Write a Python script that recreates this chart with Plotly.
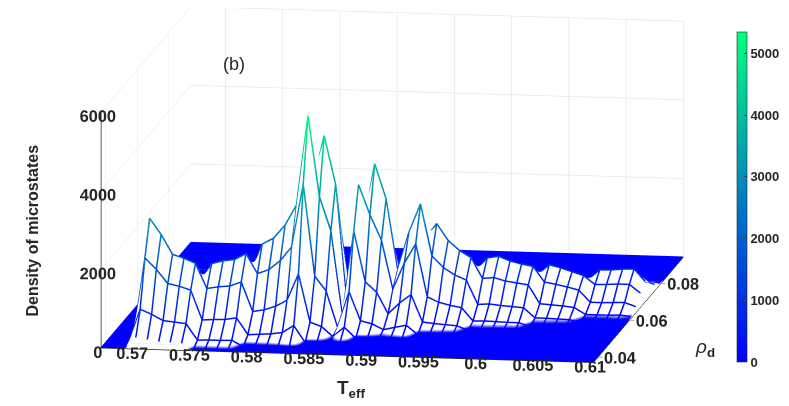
import numpy as np
import plotly.graph_objects as go

# grid
t_eff = [0.567, 0.568, 0.569, 0.570, 0.571, 0.572, 0.573, 0.574, 0.575, 0.576,
         0.577, 0.578, 0.579, 0.580, 0.581, 0.582, 0.583, 0.584, 0.585, 0.586,
         0.587, 0.588, 0.589, 0.590, 0.591, 0.592, 0.593, 0.594, 0.595, 0.596,
         0.597, 0.598, 0.599, 0.600, 0.601, 0.602, 0.603, 0.604, 0.605, 0.606,
         0.607, 0.608, 0.609, 0.610]
rho_d = [0.037, 0.040, 0.043, 0.046, 0.049, 0.052, 0.055, 0.058, 0.061, 0.064,
         0.067, 0.070, 0.073, 0.076, 0.079, 0.082, 0.085, 0.088, 0.091, 0.094]

# density of microstates, one list per T_eff value (along rho_d)
density_cols = [
    [0] * 20,
    [0] * 20,
    [0] * 20,
    [230, 870, 2030, 2900, 1890, 870, 230] + [0] * 13,
    [200, 750, 1750, 2500, 1630, 750, 200] + [0] * 13,
    [160, 600, 1400, 2000, 1300, 600, 160] + [0] * 13,
    [150, 570, 1340, 1910, 1240, 570, 150] + [0] * 13,
    [140, 540, 1250, 1790, 1160, 540, 140] + [0] * 13,
    [0] + [130, 500, 1160, 1650, 1070, 500, 130] + [0] * 12,
    [0] + [140, 520, 1210, 1730, 1120, 520, 140] + [0] * 12,
    [0] + [140, 530, 1240, 1770, 1150, 530, 140] + [0] * 12,
    [0] + [150, 580, 1350, 1930, 1250, 580, 150] + [0] * 12,
    [0] * 2 + [160, 610, 1430, 2040, 1330, 610, 160] + [0] * 11,
    [0] * 2 + [180, 660, 1540, 2200, 1430, 660, 180] + [0] * 11,
    [0] * 2 + [200, 760, 1780, 2540, 1650, 760, 200] + [0] * 11,
    [0] * 2 + [240, 920, 2140, 3060, 1990, 920, 240] + [0] * 11,
    [0] * 2 + [430, 1600, 3740, 5340, 3470, 1600, 430] + [0] * 11,
    [0] * 3 + [380, 1410, 3290, 4700, 3060, 1410, 380] + [0] * 10,
    [0] * 3 + [280, 1040, 2430, 3470, 2260, 1040, 280] + [0] * 10,
    [0] * 3 + [30, 120, 280, 400, 260, 120, 30] + [0] * 10,
    [0] * 3 + [280, 1040, 2440, 3480, 2260, 1040, 280] + [0] * 10,
    [0] * 4 + [310, 1160, 2720, 3880, 2520, 1160, 310] + [0] * 9,
    [0] * 4 + [240, 900, 2090, 2990, 1940, 900, 240] + [0] * 9,
    [0] * 4 + [100, 360, 840, 1200, 780, 360, 100] + [0] * 9,
    [0] * 4 + [170, 650, 1520, 2170, 1410, 650, 170] + [0] * 9,
    [0] * 4 + [230, 870, 2020, 2890, 1880, 870, 230] + [0] * 9,
    [0] * 5 + [180, 680, 1580, 2260, 1470, 680, 180] + [0] * 8,
    [0] * 5 + [150, 550, 1290, 1840, 1200, 550, 150] + [0] * 8,
    [0] * 5 + [130, 480, 1110, 1590, 1030, 480, 130] + [0] * 8,
    [0] * 5 + [110, 430, 990, 1420, 920, 430, 110] + [0] * 8,
    [0] * 6 + [100, 380, 900, 1280, 830, 380, 100] + [0] * 7,
    [0] * 6 + [110, 400, 930, 1330, 860, 400, 110] + [0] * 7,
    [0] * 6 + [100, 370, 850, 1220, 790, 370, 100] + [0] * 7,
    [0] * 6 + [90, 350, 810, 1150, 750, 350, 90] + [0] * 7,
    [0] * 6 + [90, 330, 770, 1100, 720, 330, 90] + [0] * 7,
    [0] * 7 + [80, 300, 710, 1010, 660, 300, 80] + [0] * 6,
    [0] * 7 + [80, 280, 660, 940, 610, 280, 80] + [0] * 6,
    [0] * 7 + [70, 260, 600, 850, 550, 260, 70] + [0] * 6,
    [0] * 7 + [60, 230, 530, 760, 490, 230, 60] + [0] * 6,
    [0] * 8 + [60, 230, 540, 770, 500, 230, 60] + [0] * 5,
    [0] * 8 + [60, 230, 550, 780, 510, 230, 60] + [0] * 5,
    [0] * 8 + [60, 240, 570, 810, 530, 240, 60] + [0] * 5,
    [0] * 8 + [70, 250, 570, 820, 530, 250, 70] + [0] * 5,
    [0] * 8 + [40, 150, 350, 500, 330, 150, 40] + [0] * 5,
]

t_ticks = [0.57, 0.575, 0.58, 0.585, 0.59, 0.595, 0.6, 0.605, 0.61]
t_ticktext = ['0.57', '0.575', '0.58', '0.585', '0.59', '0.595', '0.6', '0.605', '0.61']
rho_ticks = [0.04, 0.06, 0.08]
z_ticks = [0, 2000, 4000, 6000]
cbar_ticks = [0, 1000, 2000, 3000, 4000, 5000]

t_range = [0.567, 0.610]
rho_range = [0.037, 0.094]
z_range = [0, 6000]

z = np.array(density_cols).T  # rows = rho_d, cols = t_eff
zmax = z.max()

winter = [[0, 'rgb(0,0,255)'], [1, 'rgb(0,255,128)']]
font = 'Liberation Sans'

# view: looking mostly along +rho_d, from slightly right and above
view_dir = np.array([0.154, -0.970, 0.186])
s = 2.456
aspect = np.array([1.0, 1.15, 0.482]) * s
cam_center = np.array([0.052, -0.005, -0.13])
cam_eye = cam_center + 5 * view_dir   # far enough that nothing is clipped

# nudge the wire a hair towards the camera so it is not buried in the faces
spans = np.array([t_range[1] - t_range[0], rho_range[1] - rho_range[0], z_range[1] - z_range[0]])
nudge = 0.012 * view_dir * spans / aspect

xs, ys, zs, cs = [], [], [], []
for i, r in enumerate(rho_d):
    xs += [t + nudge[0] for t in t_eff] + [None]
    ys += [r + nudge[1]] * len(t_eff) + [None]
    zs += [v + nudge[2] for v in z[i]] + [None]
    cs += list(z[i]) + [0]
for j, t in enumerate(t_eff):
    xs += [t + nudge[0]] * len(rho_d) + [None]
    ys += [r + nudge[1] for r in rho_d] + [None]
    zs += [v + nudge[2] for v in z[:, j]] + [None]
    cs += list(z[:, j]) + [0]

fig = go.Figure()

# white faces hide what is behind the ridge, zero level shows blue
fig.add_trace(go.Surface(
    x=t_eff, y=rho_d, z=z, surfacecolor=z,
    colorscale=[[0, '#0000ff'], [0.003, '#0000ff'], [0.012, '#ffffff'], [1, '#ffffff']],
    cmin=0, cmax=zmax, showscale=False, hoverinfo='skip',
    lighting=dict(ambient=1, diffuse=0, specular=0, roughness=1, fresnel=0),
))

fig.add_trace(go.Scatter3d(
    x=xs, y=ys, z=zs, mode='lines', hoverinfo='skip',
    line=dict(color=cs, colorscale=winter, cmin=0, cmax=zmax, width=3,
              showscale=True,
              colorbar=dict(x=0.924, xanchor='left', xpad=0, y=0.534, yanchor='middle',
                            ypad=0, len=0.813, thickness=10, outlinewidth=0.6,
                            outlinecolor='#262626', tickvals=cbar_ticks,
                            ticks='inside', ticklen=3,
                            tickfont=dict(family=font, size=13, color='#262626',
                                          weight='bold'))),
))

axis_common = dict(showbackground=False, gridcolor='#dedede', gridwidth=1,
                   showline=True, linecolor='#262626', linewidth=1.5,
                   ticks='outside', ticklen=4, tickcolor='#262626', tickangle=0,
                   zeroline=False, showspikes=False, title=dict(text=''),
                   tickfont=dict(family=font, size=14, color='#262626', weight='bold'))

fig.update_layout(
    width=789, height=406, margin=dict(l=0, r=0, t=0, b=0),
    paper_bgcolor='white', showlegend=False,
    scene=dict(
        domain=dict(x=[0.0, 1.0], y=[0.0, 1.0]),
        aspectmode='manual', aspectratio=dict(x=aspect[0], y=aspect[1], z=aspect[2]),
        camera=dict(projection=dict(type='orthographic'),
                    eye=dict(x=cam_eye[0], y=cam_eye[1], z=cam_eye[2]),
                    up=dict(x=0, y=0, z=1),
                    center=dict(x=cam_center[0], y=cam_center[1], z=cam_center[2])),
        xaxis=dict(range=t_range, tickvals=t_ticks, ticktext=t_ticktext, **axis_common),
        yaxis=dict(range=rho_range, tickvals=rho_ticks, **axis_common),
        zaxis=dict(range=z_range, tickvals=z_ticks, **axis_common),
    ),
    annotations=[
        dict(text='Density of microstates', x=0.031, y=0.453, xref='paper', yref='paper',
             xanchor='center', yanchor='middle', textangle=-90, showarrow=False,
             font=dict(family=font, size=16, color='#262626', weight='bold')),
        dict(text='T<sub>eff</sub>', x=0.435, y=0.062, xref='paper', yref='paper',
             xanchor='center', yanchor='middle', showarrow=False,
             font=dict(family=font, size=19, color='#262626', weight='bold')),
        dict(text='<i>ρ</i><sub><b>d</b></sub>', x=0.883, y=0.163, xref='paper', yref='paper',
             xanchor='center', yanchor='middle', showarrow=False,
             font=dict(family=font, size=19, color='#262626')),
        dict(text='(b)', x=0.286, y=0.862, xref='paper', yref='paper',
             xanchor='center', yanchor='middle', showarrow=False,
             font=dict(family=font, size=18, color='#262626')),
    ],
)

fig.write_html("out.html")
